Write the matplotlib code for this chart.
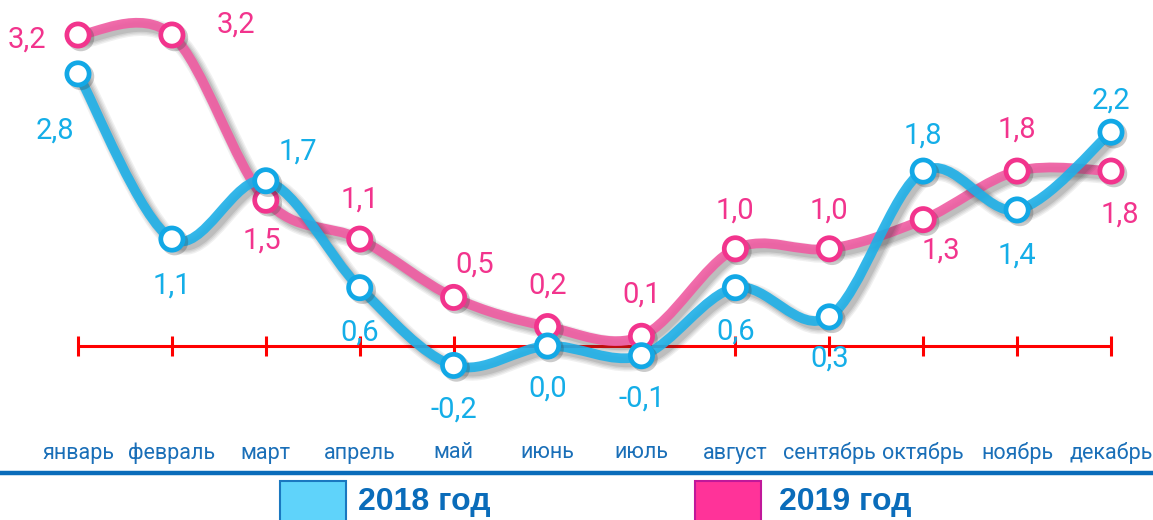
import matplotlib
matplotlib.use("Agg")
import matplotlib.pyplot as plt
import matplotlib.patheffects as pe
from matplotlib.path import Path
from matplotlib.patches import PathPatch, Rectangle
import numpy as np

months = ["январь", "февраль", "март", "апрель", "май", "июнь", "июль",
          "август", "сентябрь", "октябрь", "ноябрь", "декабрь"]
v2018 = [2.8, 1.1, 1.7, 0.6, -0.2, 0.0, -0.1, 0.6, 0.3, 1.8, 1.4, 2.2]
v2019 = [3.2, 3.2, 1.5, 1.1, 0.5, 0.2, 0.1, 1.0, 1.0, 1.3, 1.8, 1.8]
series_names = ["2018 год", "2019 год"]

# label offsets in pixels (dx, dy) relative to point (screen y up)
off2018 = [(-23, -57), (0, -47), (32, 29), (0, -45), (0, -44), (0, -43), (0, -43),
           (0, -44), (0, -42), (0, 35), (0, -46), (0, 32)]
off2019 = [(-51, -5), (64, 10), (-4, -40), (0, 40), (21, 33), (0, 41), (0, 42),
           (0, 38), (0, 38), (18, -31), (0, 41), (9, -44)]

W, H = 1153, 520
fig = plt.figure(figsize=(W / 100, H / 100), dpi=100)
ax = fig.add_axes([0, 0, 1, 1])
ax.axis("off")

x0px, dxpx = 78, (1111 - 78) / 11
y0px, dypx = 346, 311 / 3.2
ax.set_xlim(-x0px / dxpx, (W - x0px) / dxpx)
ax.set_ylim(-(H - y0px) / dypx, y0px / dypx)

NUM_FONT = ["Liberation Sans Narrow", "Roboto", "DejaVu Sans"]

# zero axis with ticks
x = np.arange(len(months))
ax.plot([x[0], x[-1]], [0, 0], color="#ff0000", lw=2.2, zorder=2, solid_capstyle="butt")
ax.plot(x, np.zeros(len(x)), ls="none", marker="|", markersize=15, mew=2.2,
        color="#ff0000", zorder=2)


def smooth_path(xs, ys, t=1 / 6):
    pts = np.column_stack([xs, ys]).astype(float)
    n = len(pts)
    verts = [pts[0]]
    codes = [Path.MOVETO]
    for i in range(n - 1):
        p0 = pts[i - 1] if i > 0 else pts[i]
        p1 = pts[i]
        p2 = pts[i + 1]
        p3 = pts[i + 2] if i + 2 < n else pts[i + 1]
        c1 = p1 + (p2 - p0) * t
        c2 = p2 - (p3 - p1) * t
        verts += [c1, c2, p2]
        codes += [Path.CURVE4] * 3
    return Path(verts, codes)


def soft_shadow(base_lw, off=(3, -3)):
    effs = []
    for k, a in zip(range(4), [0.07, 0.08, 0.09, 0.12]):
        effs.append(pe.SimpleLineShadow(offset=off, shadow_color="#333333", alpha=a,
                                        linewidth=base_lw + 2 * (3 - k)))
    return effs


def draw_series(vals, line_col, edge_col, label_col, offs, z, alpha):
    path = smooth_path(x, vals)
    patch = PathPatch(path, facecolor="none", edgecolor=line_col, lw=7, alpha=alpha,
                      zorder=z, capstyle="round", joinstyle="round")
    patch.set_path_effects(soft_shadow(7) + [pe.Normal()])
    ax.add_patch(patch)
    ax.plot(x, vals, ls="none", marker="o", markersize=16, mfc="white", mec=edge_col,
            mew=3.4, zorder=z + 0.5,
            path_effects=[pe.SimpleLineShadow(offset=(2, -2), shadow_color="#333333", alpha=0.25),
                          pe.Normal()])
    for xi, v, (dx, dy) in zip(x, vals, offs):
        ax.annotate(f"{v:.1f}".replace(".", ","), (xi, v), xytext=(dx * 0.72, dy * 0.72),
                    textcoords="offset points", ha="center", va="center",
                    fontsize=21, color=label_col, family=NUM_FONT, zorder=6)


draw_series(v2019, "#f05ca2", "#f2348d", "#f2348d", off2019, 3, 0.9)
draw_series(v2018, "#1eb0e8", "#12a8e6", "#14aee8", off2018, 4, 0.9)

# month labels
for xi, m in zip(x, months):
    ax.text(xi, -(453 - y0px) / dypx, m, ha="center", va="center", fontsize=15.5,
            color="#1a6fb8", family=NUM_FONT)

# separator line
fig.add_artist(plt.Line2D([0, 1], [1 - 473 / H, 1 - 473 / H], color="#0a6cba", lw=3.2,
                          transform=fig.transFigure))

# legend
leg = [(280, "#5fd3fa", "#1a78c0", 358, series_names[0]),
       (695, "#ff3399", "#c0189a", 779, series_names[1])]
for bx, fc, ec, tx, name in leg:
    fig.add_artist(Rectangle((bx / W, 1 - 522 / H), 66 / W, 41 / H, facecolor=fc,
                             edgecolor=ec, lw=1.5, transform=fig.transFigure))
    fig.text(tx / W, 1 - 502 / H, name, ha="left", va="center", fontsize=23,
             fontweight="bold", color="#0a6cba", family=["Liberation Sans", "DejaVu Sans"])

fig.savefig("out.png", dpi=100)
